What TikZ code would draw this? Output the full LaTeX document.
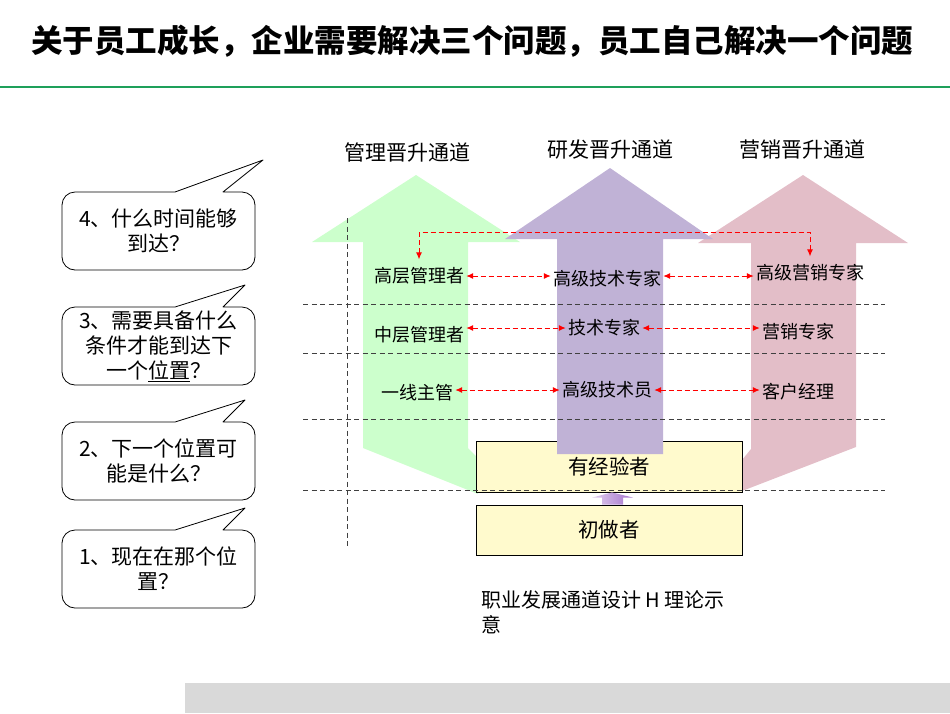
\documentclass[tikz,border=0pt]{standalone}
\usepackage{fontspec}
\setmainfont{Noto Sans CJK SC}
\usepackage{tikz}
\usetikzlibrary{arrows,arrows.meta,calc}

\definecolor{titlegreen}{RGB}{30,160,90}
\definecolor{mgrgreen}{RGB}{204,255,204}
\definecolor{techpurple}{RGB}{192,178,214}
\definecolor{salespink}{RGB}{227,190,200}
\definecolor{stagefill}{RGB}{255,250,205}
\definecolor{bargrey}{RGB}{217,217,217}
\definecolor{uppurple}{RGB}{165,115,205}

\tikzset{
	levelline/.style = {draw=black!75, dash pattern=on 5pt off 3.5pt, line width=.8pt},
	redarr/.style = {red, dash pattern=on 5pt off 3pt, line width=1pt, {Latex[length=7pt,width=6pt]}-{Latex[length=7pt,width=6pt]}},
	qbox/.style = {draw, line width=.8pt, line join=round},
	qtext/.style = {font=\fontsize{21}{25}\selectfont, align=center},
	chan/.style = {font=\fontsize{21}{24}\selectfont},
	lvl/.style = {font=\fontsize{18}{20}\selectfont, inner sep=2pt},
	stage/.style = {draw, fill=stagefill, line width=.8pt, minimum width=266pt, font=\fontsize{20.5}{22}\selectfont},
}

\begin{document}
\begin{tikzpicture}[x=1pt, y=-1pt]
	\useasboundingbox (0,0) rectangle (950,713);
	% title
	\node[font=\fontsize{31.5}{34}\selectfont\bfseries] (title) at (472,41) {关于员工成长，企业需要解决三个问题，员工自己解决一个问题};
	\draw[titlegreen, line width=2pt] (0,87) -- (950,87);
	% question callouts
	\foreach \n/\t/\b/\tx/\ty/\txt in {
		4/192/270/263/160/{4、什么时间能够\\到达？},
		3/307/385/245/285/{3、需要具备什么\\条件才能到达下\\一个\underline{位置}？},
		2/422/500/245/400/{2、下一个位置可\\能是什么？},
		1/530/608/245/508/{1、现在在那个位\\置？}}
	{
		\draw[qbox] (175,\t) -- (\tx,\ty) -- (223,\t) -- (240,\t) [rounded corners=13pt] -- (255,\t) -- (255,\b) -- (62,\b) -- (62,\t) -- (175,\t);
		\node[qtext] (q\n) at (158.5,{(\t+\b)/2}) {\txt};
	}
	% three channels
	\fill[mgrgreen] (312,242) -- (416,175) -- (520,242) -- (468,242) -- (468,448) -- (478,458) -- (478,494) -- (363,448) -- (363,242) -- cycle;
	\fill[salespink] (698,243) -- (803,175) -- (908,243) -- (856,243) -- (856,447) -- (742,491) -- (742,460) -- (751,449) -- (751,243) -- cycle;
	\node[stage, minimum height=51pt] (exp) at (609,466.5) {};
	\node[stage, minimum height=50pt] (novice) at (609,530) {初做者};
	\fill[techpurple] (505,239) -- (610,168) -- (713,239) -- (663,239) -- (663,454) -- (557,454) -- (557,239) -- cycle;
	\node[font=\fontsize{20.5}{22}\selectfont] at (exp) {有经验者};
	\shade[left color=uppurple!35, right color=uppurple] ($(novice.north)+(-7,0)$) -- ++(0,-7) -- ++(-10,0) -- ($(exp.south)+(3,0)$) -- ($(novice.north)+(24,-7)$) -- ++(-10,0) -- ++(0,7) -- cycle;
	\node[chan] (hmgr) at (407,152) {管理晋升通道};
	\node[chan] (htech) at (610,150) {研发晋升通道};
	\node[chan] (hsales) at (802,150) {营销晋升通道};
	% level grid
	\foreach \y in {304,353,419,490}
		\draw[levelline] (303,\y) -- (885,\y);
	\draw[levelline] (347,218) -- (347,548);
	% positions
	\node[lvl] (hm) at (419,276) {高层管理者};
	\node[lvl] (ht) at (607,279) {高级技术专家};
	\node[lvl] (hs) at (810,273) {高级营销专家};
	\node[lvl] (mm) at (419,335) {中层管理者};
	\node[lvl] (mt) at (604,328) {技术专家};
	\node[lvl] (ms) at (798,332) {营销专家};
	\node[lvl] (lm) at (417,393) {一线主管};
	\node[lvl] (lt) at (607,390) {高级技术员};
	\node[lvl] (ls) at (798,392) {客户经理};
	% cross moves
	\draw[redarr] ([yshift=6pt]hm.north) -- ++(0,-27) -| ([yshift=6pt]hs.north);
	\draw[redarr] (hm.east) -- (hm.east -| ht.west);
	\draw[redarr] (hm.east -| ht.east) -- (hm.east -| hs.west);
	\draw[redarr] (mt.west -| mm.east) -- (mt.west);
	\draw[redarr] (mt.east) -- (mt.east -| ms.west);
	\draw[redarr] (lt.west -| lm.east) -- (lt.west);
	\draw[redarr] (lt.east) -- (lt.east -| ls.west);
	% caption
	\node[font=\fontsize{20}{25}\selectfont, align=left, anchor=north west, inner sep=0pt] (cap) at (481,590) {职业发展通道设计 H 理论示\\意};
	\fill[bargrey] (185,683) rectangle (950,713);
\end{tikzpicture}
\end{document}
